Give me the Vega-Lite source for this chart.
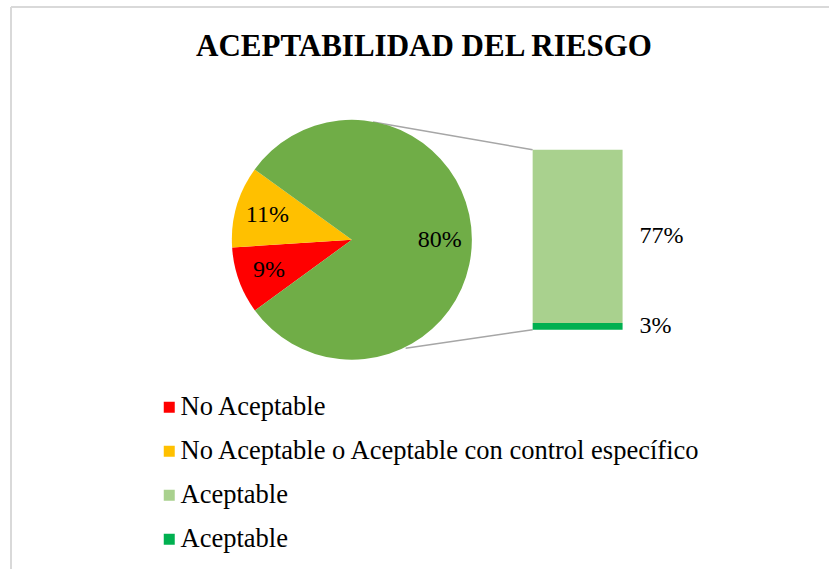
{
  "$schema": "https://vega.github.io/schema/vega-lite/v6.json",
  "width": 818,
  "height": 562,
  "autosize": {"type": "none"},
  "padding": {"left": 11, "top": 7, "right": 0, "bottom": 0},
  "background": "white",
  "title": {
    "text": "ACEPTABILIDAD DEL RIESGO",
    "font": "Liberation Serif",
    "fontSize": 31,
    "fontWeight": "bold",
    "color": "black",
    "anchor": "middle",
    "baseline": "alphabetic",
    "offset": -81,
    "dx": 4
  },
  "config": {"view": {"stroke": null}},
  "datasets": {
    "pastel": [
      {"categoria": "No Aceptable", "porcentaje": 9, "orden": 1},
      {"categoria": "No Aceptable o Aceptable con control específico", "porcentaje": 11, "orden": 2},
      {"categoria": "Aceptable (total)", "porcentaje": 80, "orden": 3}
    ],
    "barra": [
      {"categoria": "Aceptable ", "porcentaje": 3, "orden": 1},
      {"categoria": "Aceptable", "porcentaje": 77, "orden": 2}
    ],
    "marco": [{}]
  },
  "layer": [
    {
      "data": {"name": "marco"},
      "mark": {"type": "rule", "color": "#D9D9D9", "strokeWidth": 2},
      "encoding": {
        "x": {"datum": 0, "type": "quantitative", "scale": {"domain": [0, 363.8], "nice": false, "zero": false}, "axis": null},
        "x2": {"datum": 363.8},
        "y": {"datum": 143.5, "type": "quantitative", "scale": {"domain": [-106.4, 143.5], "nice": false, "zero": false}, "axis": null}
      }
    },
    {
      "data": {"name": "marco"},
      "mark": {"type": "rule", "color": "#D9D9D9", "strokeWidth": 2},
      "encoding": {
        "x": {"datum": 0, "type": "quantitative", "scale": {"domain": [0, 363.8], "nice": false, "zero": false}, "axis": null},
        "y": {"datum": -106.4, "type": "quantitative", "scale": {"domain": [-106.4, 143.5], "nice": false, "zero": false}, "axis": null},
        "y2": {"datum": 143.5}
      }
    },
    {
      "data": {"name": "marco"},
      "mark": {"type": "rule", "color": "#A6A6A6", "strokeWidth": 1.5},
      "encoding": {
        "x": {"datum": 161, "type": "quantitative", "scale": {"domain": [0, 363.8], "nice": false, "zero": false}, "axis": null},
        "x2": {"datum": 232},
        "y": {"datum": 92.4, "type": "quantitative", "scale": {"domain": [-106.4, 143.5], "nice": false, "zero": false}, "axis": null},
        "y2": {"datum": 80}
      }
    },
    {
      "data": {"name": "marco"},
      "mark": {"type": "rule", "color": "#A6A6A6", "strokeWidth": 1.5},
      "encoding": {
        "x": {"datum": 175.5, "type": "quantitative", "scale": {"domain": [0, 363.8], "nice": false, "zero": false}, "axis": null},
        "x2": {"datum": 232},
        "y": {"datum": -8.2, "type": "quantitative", "scale": {"domain": [-106.4, 143.5], "nice": false, "zero": false}, "axis": null},
        "y2": {"datum": 0}
      }
    },
    {
      "data": {"name": "pastel"},
      "mark": {"type": "arc", "outerRadius": 120},
      "encoding": {
        "theta": {"field": "porcentaje", "type": "quantitative", "stack": true, "scale": {"domain": [0, 100], "range": [4.0824, 10.3656]}},
        "order": {"field": "orden", "type": "quantitative"},
        "color": {
          "field": "categoria",
          "type": "nominal",
          "scale": {
            "domain": ["No Aceptable", "No Aceptable o Aceptable con control específico", "Aceptable", "Aceptable ", "Aceptable (total)"],
            "range": ["#FF0000", "#FFC000", "#A9D18E", "#00B050", "#70AD47"]
          },
          "legend": {
            "title": null,
            "orient": "none",
            "legendX": 145,
            "legendY": 387,
            "direction": "vertical",
            "values": ["No Aceptable", "No Aceptable o Aceptable con control específico", "Aceptable", "Aceptable "],
            "symbolType": "square",
            "symbolSize": 121,
            "symbolStrokeWidth": 0,
            "labelFont": "Liberation Serif",
            "labelFontSize": 26.5,
            "labelColor": "black",
            "labelLimit": 0,
            "labelOffset": -2,
            "rowPadding": 17,
            "padding": 0
          }
        },
        "x": {"datum": 151.6, "type": "quantitative", "scale": {"domain": [0, 363.8], "nice": false, "zero": false}, "axis": null},
        "y": {"datum": 40, "type": "quantitative", "scale": {"domain": [-106.4, 143.5], "nice": false, "zero": false}, "axis": null}
      }
    },
    {
      "data": {"name": "pastel"},
      "transform": [{"calculate": "datum.porcentaje + '%'", "as": "etiqueta"}],
      "mark": {"type": "text", "radius": 88, "font": "Liberation Serif", "fontSize": 24, "color": "black"},
      "encoding": {
        "theta": {"field": "porcentaje", "type": "quantitative", "stack": true, "scale": {"domain": [0, 100], "range": [4.0824, 10.3656]}},
        "order": {"field": "orden", "type": "quantitative"},
        "detail": {"field": "categoria"},
        "text": {"field": "etiqueta"},
        "x": {"datum": 151.6, "type": "quantitative", "scale": {"domain": [0, 363.8], "nice": false, "zero": false}, "axis": null},
        "y": {"datum": 40, "type": "quantitative", "scale": {"domain": [-106.4, 143.5], "nice": false, "zero": false}, "axis": null}
      }
    },
    {
      "data": {"name": "barra"},
      "transform": [
        {"stack": "porcentaje", "groupby": [], "sort": [{"field": "orden"}], "as": ["y0", "y1"]}
      ],
      "mark": {"type": "rect"},
      "encoding": {
        "x": {"datum": 232, "type": "quantitative", "scale": {"domain": [0, 363.8], "nice": false, "zero": false}, "axis": null},
        "x2": {"datum": 272},
        "y": {"field": "y0", "type": "quantitative", "scale": {"domain": [-106.4, 143.5], "nice": false, "zero": false}, "axis": null},
        "y2": {"field": "y1"},
        "color": {
          "field": "categoria",
          "type": "nominal",
          "scale": {
            "domain": ["No Aceptable", "No Aceptable o Aceptable con control específico", "Aceptable", "Aceptable ", "Aceptable (total)"],
            "range": ["#FF0000", "#FFC000", "#A9D18E", "#00B050", "#70AD47"]
          },
          "legend": {
            "title": null,
            "orient": "none",
            "legendX": 145,
            "legendY": 387,
            "direction": "vertical",
            "values": ["No Aceptable", "No Aceptable o Aceptable con control específico", "Aceptable", "Aceptable "],
            "symbolType": "square",
            "symbolSize": 121,
            "symbolStrokeWidth": 0,
            "labelFont": "Liberation Serif",
            "labelFontSize": 26.5,
            "labelColor": "black",
            "labelLimit": 0,
            "labelOffset": -2,
            "rowPadding": 17,
            "padding": 0
          }
        }
      }
    },
    {
      "data": {"name": "barra"},
      "transform": [
        {"stack": "porcentaje", "groupby": [], "sort": [{"field": "orden"}], "as": ["y0", "y1"]},
        {"calculate": "(datum.y0 + datum.y1) / 2", "as": "ymedio"},
        {"calculate": "datum.porcentaje + '%'", "as": "etiqueta"}
      ],
      "mark": {"type": "text", "align": "left", "dx": 17, "font": "Liberation Serif", "fontSize": 24, "color": "black"},
      "encoding": {
        "x": {"datum": 272, "type": "quantitative", "scale": {"domain": [0, 363.8], "nice": false, "zero": false}, "axis": null},
        "y": {"field": "ymedio", "type": "quantitative", "scale": {"domain": [-106.4, 143.5], "nice": false, "zero": false}, "axis": null},
        "text": {"field": "etiqueta"}
      }
    }
  ]
}
